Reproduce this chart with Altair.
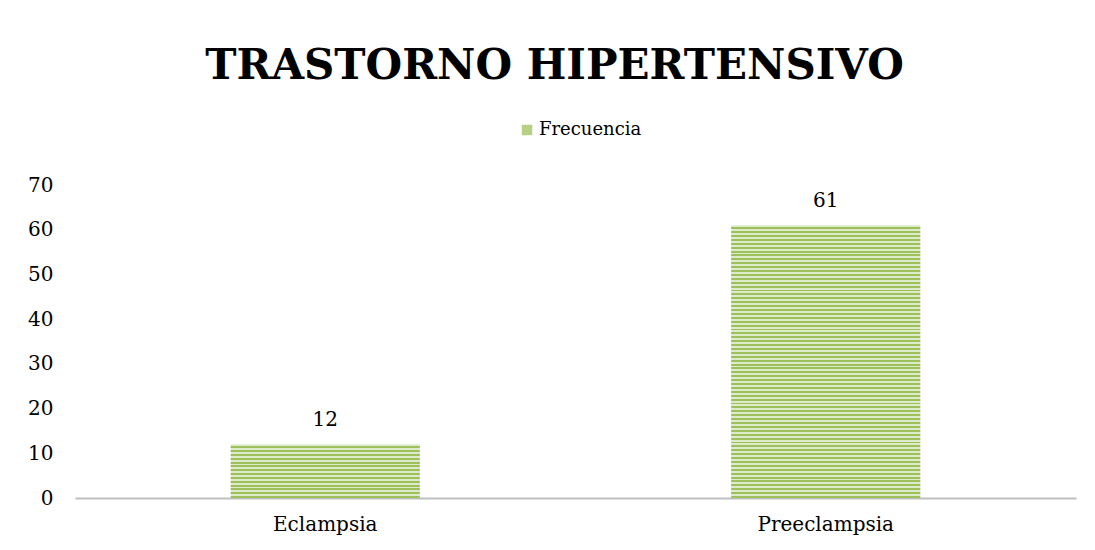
import altair as alt
import pandas as pd

# ---- data ----
categories = ["Eclampsia", "Preeclampsia"]
values = [12, 61]
series_name = "Frecuencia"
title_text = "TRASTORNO HIPERTENSIVO"

df = pd.DataFrame({"Trastorno": categories, "Frecuencia": values,
                   "Serie": [series_name] * len(categories)})

# ---- style ----
W, H = 1001, 313
Y_MAX = 70
FONT = "DejaVu Serif"
DARK = "#9dc05c"
LIGHT = "#dcebc8"
MID = "#b5d183"
STRIPE_PX = 3.9


def stripe_fill(v):
    n = max(1, round(v * (H / Y_MAX) / STRIPE_PX))
    stops = []
    for i in range(n):
        a, b, c = i / n, (i + 0.5) / n, (i + 1) / n
        stops += [alt.GradientStop(offset=a, color=LIGHT),
                  alt.GradientStop(offset=b, color=LIGHT),
                  alt.GradientStop(offset=b, color=DARK),
                  alt.GradientStop(offset=c, color=DARK)]
    return alt.LinearGradient(gradient="linear", stops=stops, x1=0, x2=0, y1=0, y2=1)


x_enc = alt.X("Trastorno:N", sort=categories, title=None,
              scale=alt.Scale(paddingInner=0.622, paddingOuter=0.311),
              axis=alt.Axis(labelAngle=0, ticks=False, domainColor="#bfbfbf",
                            domainWidth=2, labelFont=FONT, labelFontSize=20,
                            labelColor="#000000", labelPadding=16, grid=False))
y_enc = alt.Y("Frecuencia:Q", title=None,
              scale=alt.Scale(domain=[0, Y_MAX]),
              axis=alt.Axis(values=list(range(0, Y_MAX + 1, 10)), domain=False,
                            ticks=False, grid=False, labelFont=FONT,
                            labelFontSize=20, labelColor="#000000",
                            labelPadding=22))

base = alt.Chart(df).encode(x=x_enc, y=y_enc)

bar_layers = [
    base.transform_filter(alt.datum.Trastorno == c).mark_bar(fill=stripe_fill(v))
    for c, v in zip(categories, values)
]

legend_holder = base.mark_square(opacity=0, size=1).encode(
    color=alt.Color("Serie:N", scale=alt.Scale(range=[MID]),
                    legend=alt.Legend(title=None, orient="none",
                                      legendX=443, legendY=-64,
                                      symbolType="square", symbolSize=110,
                                      symbolOpacity=1, symbolStrokeWidth=0,
                                      labelFont=FONT, labelFontSize=18,
                                      labelColor="#000000", labelOffset=3))
)

labels = base.mark_text(baseline="bottom", dy=-14, font=FONT, fontSize=20,
                        color="#000000").encode(text="Frecuencia:Q")

chart = alt.layer(*bar_layers, legend_holder, labels).properties(
    width=W, height=H,
    title=alt.TitleParams(title_text, font=FONT, fontSize=42, fontWeight="bold",
                          color="#000000", anchor="middle", frame="group",
                          dx=-21, offset=33),
    autosize=alt.AutoSizeParams(type="none"),
    padding={"left": 67, "top": 177, "right": 10, "bottom": 50},
).configure_view(stroke=None)

chart.save("out.html", embed_options={"renderer": "svg", "actions": False})
